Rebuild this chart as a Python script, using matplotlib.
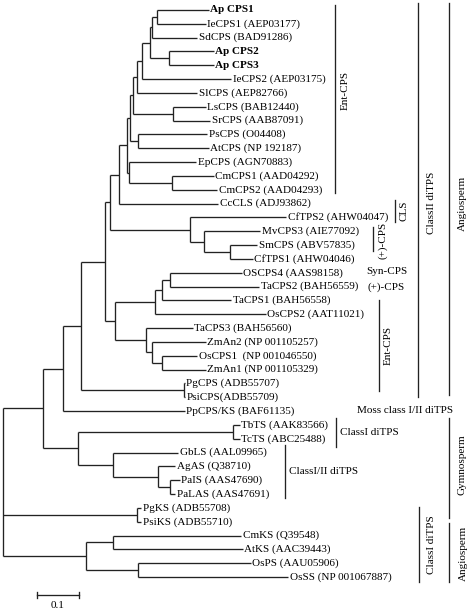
import matplotlib.pyplot as plt

plt.rcParams['font.family'] = ['Liberation Serif', 'DejaVu Serif']

# leaf labels, top to bottom
leaves = ['Ap CPS1', 'IeCPS1 (AEP03177)', 'SdCPS (BAD91286)', 'Ap CPS2', 'Ap CPS3',
          'IeCPS2 (AEP03175)', 'SlCPS (AEP82766)', 'LsCPS (BAB12440)', 'SrCPS (AAB87091)',
          'PsCPS (O04408)', 'AtCPS (NP 192187)', 'EpCPS (AGN70883)', 'CmCPS1 (AAD04292)',
          'CmCPS2 (AAD04293)', 'CcCLS (ADJ93862)', 'CfTPS2 (AHW04047)', 'MvCPS3 (AIE77092)',
          'SmCPS (ABV57835)', 'CfTPS1 (AHW04046)', 'OSCPS4 (AAS98158)', 'TaCPS2 (BAH56559)',
          'TaCPS1 (BAH56558)', 'OsCPS2 (AAT11021)', 'TaCPS3 (BAH56560)', 'ZmAn2 (NP 001105257)',
          'OsCPS1  (NP 001046550)', 'ZmAn1 (NP 001105329)', 'PgCPS (ADB55707)', 'PsiCPS(ADB55709)',
          'PpCPS/KS (BAF61135)', 'TbTS (AAK83566)', 'TcTS (ABC25488)', 'GbLS (AAL09965)',
          'AgAS (Q38710)', 'PaIS (AAS47690)', 'PaLAS (AAS47691)', 'PgKS (ADB55708)',
          'PsiKS (ADB55710)', 'CmKS (Q39548)', 'AtKS (AAC39443)', 'OsPS (AAU05906)',
          'OsSS (NP 001067887)']
bold = [0, 3, 4]

# distance from root of each leaf tip
leaf_depth = [0.490, 0.483, 0.462, 0.502, 0.502, 0.543, 0.462, 0.483, 0.493, 0.486,
              0.490, 0.460, 0.502, 0.510, 0.512, 0.674, 0.612, 0.605, 0.595, 0.569,
              0.610, 0.543, 0.626, 0.452, 0.483, 0.462, 0.483, 0.433, 0.433, 0.433,
              0.564, 0.564, 0.417, 0.410, 0.421, 0.410, 0.329, 0.329, 0.567, 0.571,
              0.590, 0.679]

# internal nodes: children (leaf index or node name) and distance from root
node_children = {
    'a1': [0, 1], 'a2': [3, 4], 'a3': ['a1', 2], 'a4': ['a3', 'a2'], 'a5': ['a4', 5],
    'a6': ['a5', 6], 'a7': [7, 8], 'a8': ['a6', 'a7'], 'a9': [9, 10], 'a10': ['a8', 'a9'],
    'a11': [12, 13], 'a12': [11, 'a11'], 'a13': ['a10', 'a12'], 'a14': ['a13', 14],
    'b1': [17, 18], 'b2': [16, 'b1'], 'b3': [15, 'b2'], 'a15': ['a14', 'b3'],
    'c1': [19, 20], 'c2': ['c1', 21], 'c3': ['c2', 22], 'c4': [25, 26], 'c5': [24, 'c4'],
    'c6': [23, 'c5'], 'c7': ['c3', 'c6'], 'a16': ['a15', 'c7'], 'd1': [27, 28],
    'a17': ['a16', 'd1'], 'a18': ['a17', 29], 'g1': [30, 31], 'g2': [34, 35],
    'g3': [33, 'g2'], 'g4': [32, 'g3'], 'g5': ['g1', 'g4'], 'r1': ['a18', 'g5'],
    'k1': [36, 37], 'k2': [38, 39], 'k3': [40, 41], 'k4': ['k2', 'k3'],
    'root': ['r1', 'k1', 'k4'],
}
node_depth = {
    'a1': 0.367, 'a2': 0.395, 'a3': 0.355, 'a4': 0.350, 'a5': 0.331, 'a6': 0.319,
    'a7': 0.405, 'a8': 0.310, 'a9': 0.321, 'a10': 0.302, 'a11': 0.402, 'a12': 0.300,
    'a13': 0.295, 'a14': 0.276, 'b1': 0.540, 'b2': 0.479, 'b3': 0.445, 'a15': 0.255,
    'c1': 0.398, 'c2': 0.379, 'c3': 0.362, 'c4': 0.379, 'c5': 0.355, 'c6': 0.340,
    'c7': 0.267, 'a16': 0.243, 'd1': 0.431, 'a17': 0.186, 'a18': 0.143, 'g1': 0.548,
    'g2': 0.398, 'g3': 0.369, 'g4': 0.262, 'g5': 0.179, 'r1': 0.095, 'k1': 0.319,
    'k2': 0.262, 'k3': 0.321, 'k4': 0.198, 'root': 0.0,
}

# helpers for the annotation layout (pixel -> data)
def px(x):
    return (x - 3) / 420.0

def py(y):
    return (y - 10) / 13.83

fig = plt.figure(figsize=(4.72, 6.10), dpi=100)
ax = fig.add_axes([0, 0, 1, 1])
ax.set_xlim(px(0), px(472))
ax.set_ylim(py(610), py(0))
ax.axis('off')

lc = '#222222'
lw = 0.95


def pos(n):
    if isinstance(n, int):
        return leaf_depth[n], float(n)
    ys = [pos(c)[1] for c in node_children[n]]
    return node_depth[n], (min(ys) + max(ys)) / 2


for n, kids in node_children.items():
    x, _ = pos(n)
    ys = []
    for c in kids:
        cx, cy = pos(c)
        ax.plot([x, cx], [cy, cy], color=lc, lw=lw, solid_capstyle='butt')
        ys.append(cy)
    ax.plot([x, x], [min(ys), max(ys)], color=lc, lw=lw, solid_capstyle='butt')

for i, name in enumerate(leaves):
    ax.text(leaf_depth[i] + px(4.5), i, name, fontsize=8, va='center', ha='left',
            fontweight='bold' if i in bold else 'normal')

# clade brackets: label, line x, y from, y to, text x, text y, rotated
brackets = [
    ('Ent-CPS', 335, 5, 193, 345, 90, True),
    ('CLS', 395, 200, 222, 404, 211, True),
    ('(+)-CPS', 373, 227, 251, 383, 240, True),
    ('Ent-CPS', 379, 300, 391, 388, 345, True),
    ('ClassII diTPS', 418, 3, 397, 432, 203, True),
    ('Angiosperm', 449, 3, 395, 462, 203, True),
    ('ClassI diTPS', 336, 418, 447, 340, 432, False),
    ('ClassI/II diTPS', 285, 445, 498, 289, 472, False),
    ('Gymnosperm', 449, 418, 518, 462, 465, True),
    ('ClassI diTPS', 419, 507, 582, 432, 545, True),
    ('Angiosperm', 449, 523, 582, 463, 553, True),
]
for lab, lx, y0, y1, tx, ty, rot in brackets:
    ax.plot([px(lx), px(lx)], [py(y0), py(y1)], color=lc, lw=lw)
    if rot:
        ax.text(px(tx), py(ty), lab, fontsize=8, rotation=90, ha='center', va='center')
    else:
        ax.text(px(tx), py(ty), lab, fontsize=8, ha='left', va='center')

ax.text(px(366), py(271), 'Syn-CPS', fontsize=8, ha='left', va='center')
ax.text(px(368), py(287), '(+)-CPS', fontsize=8, ha='left', va='center')
ax.text(px(357), py(410), 'Moss class I/II diTPS', fontsize=8, ha='left', va='center')

# scale bar
ax.plot([px(37), px(79)], [py(595), py(595)], color=lc, lw=lw)
ax.plot([px(37), px(37)], [py(592), py(598)], color=lc, lw=lw)
ax.plot([px(79), px(79)], [py(592), py(598)], color=lc, lw=lw)
ax.text(px(58), py(605), '0.1', fontsize=8, ha='center', va='center')

fig.savefig('out.png', dpi=100)
